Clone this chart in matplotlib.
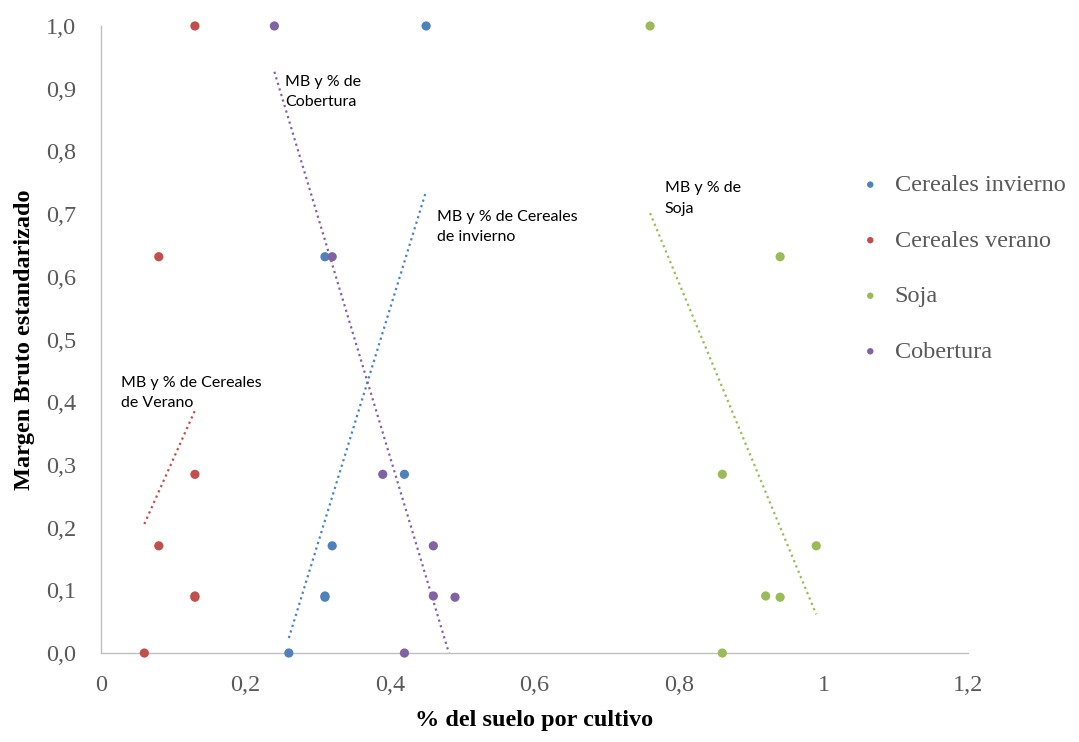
import numpy as np
import matplotlib.pyplot as plt
from matplotlib.ticker import FuncFormatter

# standardized gross margin, same for every crop
mb = [1.0, 0.632, 0.285, 0.171, 0.091, 0.089, 0.0]

# % of land per crop
cereales_invierno = [0.45, 0.31, 0.42, 0.32, 0.31, 0.31, 0.26]
cereales_verano = [0.13, 0.08, 0.13, 0.08, 0.13, 0.13, 0.06]
soja = [0.76, 0.94, 0.86, 0.99, 0.92, 0.94, 0.86]
cobertura = [0.24, 0.32, 0.39, 0.46, 0.46, 0.49, 0.42]

labels = ["Cereales invierno", "Cereales verano", "Soja", "Cobertura"]
colors = ["#4F81BD", "#C0504D", "#9BBB59", "#8064A2"]
trend_text = ["MB y % de Cereales\nde invierno", "MB y % de Cereales\nde Verano",
              "MB y % de\nSoja", "MB y % de\nCobertura"]
text_pos = [(0.465, 0.707), (0.027, 0.442), (0.78, 0.752), (0.255, 0.922)]

serif = "Liberation Serif"
sans = ["Lato", "DejaVu Sans"]

fig = plt.figure(figsize=(10.79, 7.42), dpi=100)
ax = fig.add_axes([0.0936, 0.1199, 0.8035, 0.8451])

series = [cereales_invierno, cereales_verano, soja, cobertura]
handles = []
for xs, lab, col, txt, pos in zip(series, labels, colors, trend_text, text_pos):
    h = ax.scatter(xs, mb, s=44, color=col, label=lab, zorder=3, clip_on=False,
                   edgecolors="none")
    handles.append(h)
    # linear trendline over the range of the data
    k, b = np.polyfit(xs, mb, 1)
    xx = np.array([min(xs), max(xs)])
    ax.plot(xx, k * xx + b, color=col, lw=1.6, ls=(0, (1, 1.6)), zorder=2)
    ax.text(pos[0], pos[1], txt, fontsize=11.5, family=sans, va="top", ha="left",
            linespacing=1.55, color="black")

ax.set_xlim(0, 1.2)
ax.set_ylim(0, 1.0)
ax.set_xticks(np.arange(0, 1.21, 0.2))
ax.set_yticks(np.arange(0, 1.01, 0.1))

def fmt_x(v, pos):
    if abs(v - round(v)) < 1e-9:
        return "%d" % round(v)
    return ("%.1f" % v).replace(".", ",")

ax.xaxis.set_major_formatter(FuncFormatter(fmt_x))
ax.yaxis.set_major_formatter(FuncFormatter(lambda v, p: ("%.1f" % v).replace(".", ",")))
ax.tick_params(length=0, labelsize=17.5, labelcolor="#595959")
ax.tick_params(axis="y", pad=18)
ax.tick_params(axis="x", pad=16)
for lab in ax.get_xticklabels() + ax.get_yticklabels():
    lab.set_family(serif)

for s in ["top", "right"]:
    ax.spines[s].set_visible(False)
for s in ["left", "bottom"]:
    ax.spines[s].set_color("#BFBFBF")
    ax.spines[s].set_linewidth(1.0)

ax.set_xlabel("% del suelo por cultivo", fontsize=17.5, family=serif, fontweight="bold",
              labelpad=10)
ax.set_ylabel("Margen Bruto estandarizado", fontsize=17.5, family=serif, fontweight="bold",
              labelpad=8)

leg = fig.legend(handles=handles, labels=labels, loc="upper left",
                 bbox_to_anchor=(0.775, 0.795), frameon=False,
                 prop={"family": serif, "size": 17.5}, labelspacing=1.38,
                 handletextpad=0.5, handlelength=1.0, scatterpoints=1, markerscale=0.7)
for t in leg.get_texts():
    t.set_color("#595959")

fig.savefig("out.png", dpi=100)
